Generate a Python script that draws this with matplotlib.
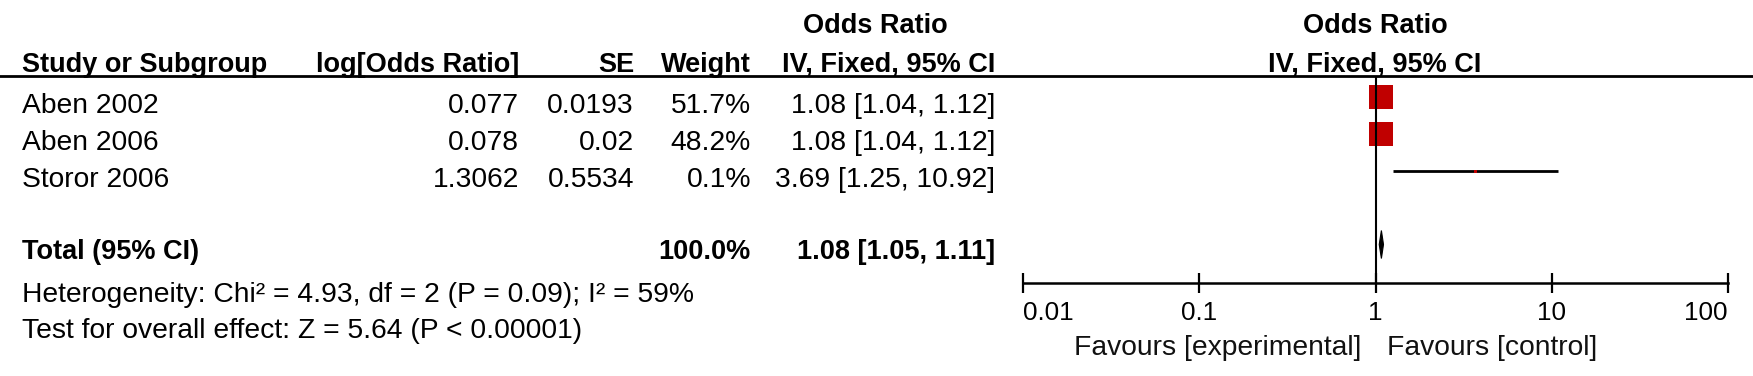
import numpy as np
import matplotlib
matplotlib.use("Agg")
import matplotlib.pyplot as plt

# ---------------- data ----------------
studies = ["Aben 2002", "Aben 2006", "Storor 2006"]
log_or = [0.077, 0.078, 1.3062]
se = [0.0193, 0.02, 0.5534]
weight = [51.7, 48.2, 0.1]
or_est = [1.08, 1.08, 3.69]
ci_lo = [1.04, 1.04, 1.25]
ci_hi = [1.12, 1.12, 10.92]

total_label = "Total (95% CI)"
total_weight = 100.0
total_est = 1.08
total_lo = 1.05
total_hi = 1.11

heterogeneity = "Heterogeneity: Chi\u00b2 = 4.93, df = 2 (P = 0.09); I\u00b2 = 59%"
overall = "Test for overall effect: Z = 5.64 (P < 0.00001)"

col_headers = ["Study or Subgroup", "log[Odds Ratio]", "SE", "Weight", "IV, Fixed, 95% CI"]
group_header = "Odds Ratio"
plot_header = "IV, Fixed, 95% CI"

xticks = [0.01, 0.1, 1, 10, 100]
xtick_labels = ["0.01", "0.1", "1", "10", "100"]
favours_left = "Favours [experimental]"
favours_right = "Favours [control]"

# ---------------- style ----------------
plt.rcParams["font.family"] = ["Liberation Sans", "DejaVu Sans"]
W, H = 1753, 376
DPI = 100
PX = 72.0 / DPI  # points per pixel

fs_reg = 20.3
fs_bold = 19.5
fs_tick = 18.7
red = "#C00000"

fig = plt.figure(figsize=(W / DPI, H / DPI), dpi=DPI)
fig.patch.set_facecolor("white")

# background axes in pixel coordinates for table text
bg = fig.add_axes([0, 0, 1, 1])
bg.set_xlim(0, W)
bg.set_ylim(H, 0)
bg.axis("off")

# column geometry (pixels)
x_study = 22
x_logor = 519
x_se = 634
x_weight = 751
x_ci = 995
x_ci_center = 875
x_plot_center = 1375

y_group = 33
y_header = 72
y_line = 76
row_base0 = 113
row_step = 37
y_total = 259
y_het = 302
y_test = 338

# headers
bg.text(x_ci_center, y_group, group_header, ha="center", va="baseline",
        fontsize=fs_bold, fontweight="bold")
bg.text(x_plot_center, y_group, group_header, ha="center", va="baseline",
        fontsize=fs_bold, fontweight="bold")
bg.text(x_study, y_header, col_headers[0], ha="left", va="baseline",
        fontsize=fs_bold, fontweight="bold")
bg.text(x_logor, y_header, col_headers[1], ha="right", va="baseline",
        fontsize=fs_bold, fontweight="bold")
bg.text(x_se, y_header, col_headers[2], ha="right", va="baseline",
        fontsize=fs_bold, fontweight="bold")
bg.text(x_weight, y_header, col_headers[3], ha="right", va="baseline",
        fontsize=fs_bold, fontweight="bold")
bg.text(x_ci, y_header, col_headers[4], ha="right", va="baseline",
        fontsize=fs_bold, fontweight="bold")
bg.text(x_plot_center, y_header, plot_header, ha="center", va="baseline",
        fontsize=fs_bold, fontweight="bold")
bg.axhline(y_line, color="black", lw=2.0)

# study rows
for i, name in enumerate(studies):
    yb = row_base0 + row_step * i
    bg.text(x_study, yb, name, ha="left", va="baseline", fontsize=fs_reg)
    bg.text(x_logor, yb, str(log_or[i]), ha="right", va="baseline", fontsize=fs_reg)
    bg.text(x_se, yb, str(se[i]), ha="right", va="baseline", fontsize=fs_reg)
    bg.text(x_weight, yb, f"{weight[i]:.1f}%", ha="right", va="baseline", fontsize=fs_reg)
    bg.text(x_ci, yb, f"{or_est[i]:.2f} [{ci_lo[i]:.2f}, {ci_hi[i]:.2f}]",
            ha="right", va="baseline", fontsize=fs_reg)

# total row
bg.text(x_study, y_total, total_label, ha="left", va="baseline",
        fontsize=fs_bold, fontweight="bold")
bg.text(x_weight, y_total, f"{total_weight:.1f}%", ha="right", va="baseline",
        fontsize=fs_bold, fontweight="bold")
bg.text(x_ci, y_total, f"{total_est:.2f} [{total_lo:.2f}, {total_hi:.2f}]",
        ha="right", va="baseline", fontsize=fs_bold, fontweight="bold")
bg.text(x_study, y_het, heterogeneity, ha="left", va="baseline", fontsize=fs_reg)
bg.text(x_study, y_test, overall, ha="left", va="baseline", fontsize=fs_reg)

# favours labels
bg.text(1361, 355, favours_left, ha="right", va="baseline", fontsize=fs_reg, color="#111111")
bg.text(1387, 355, favours_right, ha="left", va="baseline", fontsize=fs_reg, color="#111111")

# ---------------- forest axes ----------------
ax_left, ax_right = 1023, 1728
ax_top, ax_bottom = y_line, 283
row_c0 = 96.5
ax = fig.add_axes([ax_left / W, 1 - ax_bottom / H,
                   (ax_right - ax_left) / W, (ax_bottom - ax_top) / H])
ax.set_xscale("log")
ax.set_xlim(xticks[0], xticks[-1])
ax.set_ylim((ax_bottom - row_c0) / row_step, (ax_top - row_c0) / row_step)
ax.patch.set_alpha(0)
for s in ["top", "right", "left"]:
    ax.spines[s].set_visible(False)
ax.spines["bottom"].set_linewidth(1.8)
ax.set_yticks([])
ax.set_xticks(xticks)
ax.set_xticklabels(xtick_labels, fontsize=fs_tick)
ax.xaxis.set_minor_locator(matplotlib.ticker.NullLocator())
ax.tick_params(axis="x", direction="inout", length=20 * PX, width=1.6, pad=5.5)
labels = ax.get_xticklabels()
labels[0].set_ha("left")
labels[-1].set_ha("right")

rows = np.arange(len(studies))
ax.hlines(rows, ci_lo, ci_hi, color="black", lw=2.0, zorder=2)
side_px = np.maximum(33.4 * np.sqrt(np.array(weight) / 100.0), 3.0)
for i in rows:
    ax.plot([or_est[i]], [i], marker="s", linestyle="none",
            markersize=side_px[i] * PX, color=red, markeredgewidth=0, zorder=3)

# total diamond
y_tot = len(studies) + 1
half_h = 14.0 / row_step
ax.fill([total_lo, total_est, total_hi, total_est],
        [y_tot, y_tot - half_h, y_tot, y_tot + half_h],
        color="black", lw=0.8, zorder=3)

ax.axvline(1, color="black", lw=1.5, zorder=4)

fig.savefig("out.png", dpi=DPI, facecolor="white")
